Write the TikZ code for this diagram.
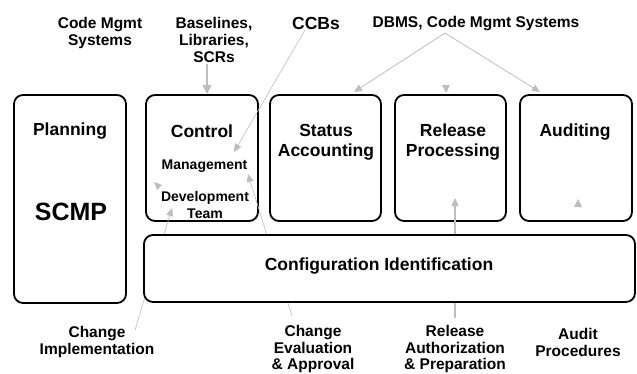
\documentclass[tikz,border=0pt]{standalone}
\usepackage{fontspec}
\setmainfont{Liberation Sans}
\usetikzlibrary{arrows.meta,calc}
\definecolor{lgray}{HTML}{BDBDBD}
\begin{document}
\begin{tikzpicture}[x=1pt,y=-1pt,
  box/.style={draw, line width=1.8pt, fill=white, rounded corners=9pt, inner sep=0pt},
  lab/.style={font=\fontsize{15.5}{17}\selectfont\bfseries, align=center, inner sep=0pt},
  labtight/.style={font=\fontsize{15.5}{16.5}\selectfont\bfseries, align=center, inner sep=0pt},
  ttl/.style={font=\fontsize{17.5}{20}\selectfont\bfseries, align=center, inner sep=0pt},
  sml/.style={font=\fontsize{14}{17}\selectfont\bfseries, align=center, inner sep=0pt},
  big/.style={font=\fontsize{25}{28}\selectfont\bfseries, inner sep=0pt},
  conn/.style={draw=lgray, line width=0.8pt, -{Triangle[length=8pt,width=7pt]}},
  thick conn/.style={draw=lgray, line width=1.8pt, -{Triangle[length=9pt,width=9pt]}},
  tiphead/.style={fill=lgray, draw=none},
]
\useasboundingbox (0,0) rectangle (637,373);
% boxes (except configuration identification)
\node[box, minimum width=112pt, minimum height=208pt] (plan) at (70,199) {};
\node[box, minimum width=112pt, minimum height=126pt] (ctrl) at (202,158) {};
\node[box, minimum width=111pt, minimum height=126pt] (stat) at (325.5,158) {};
\node[box, minimum width=111pt, minimum height=126pt] (rel) at (450.5,158) {};
\node[box, minimum width=112pt, minimum height=126pt] (aud) at (576,158) {};
% box texts
\node[ttl] (tplan) at (70,131.5) {Planning};
\node[big] (tscmp) at (71,212) {SCMP};
\node[ttl] (tctrl) at (202,131.5) {Control};
\node[sml] (tmgmt) at (204.5,166) {Management};
\node[sml] (tdev) at (205,204.5) {Development\\Team};
\node[ttl] (tstat) at (326,142) {Status\\Accounting};
\node[ttl] (trel) at (453,142) {Release\\Processing};
\node[ttl] (taud) at (575,132) {Auditing};
% outside labels
\node[lab] (lcode) at (100,32.5) {Code Mgmt\\Systems};
\node[lab] (lbase) at (214,40) {Baselines,\\Libraries,\\SCRs};
\node[font=\fontsize{17.5}{20}\selectfont\bfseries, inner sep=0pt] (lccb) at (316,23) {CCBs};
\node[lab] (ldbms) at (476,23.5) {DBMS, Code Mgmt Systems};
\node[lab] (limpl) at (97,342) {Change\\Implementation};
\node[labtight] (leval) at (313,349) {Change\\Evaluation\\\& Approval};
\node[labtight] (lrel) at (455,349) {Release\\Authorization\\\& Preparation};
\node[lab] (laud) at (578,342.5) {Audit\\Procedures};
% connector end points
\coordinate (bS) at (207,64);   \coordinate (bE) at (207,94);
\coordinate (cS) at (305,30);   \coordinate (cE) at (234,152);
\coordinate (dS) at (445,33);   \coordinate (dL) at (354,92);  \coordinate (dR) at (540,92);
\coordinate (rS) at (455,318);  \coordinate (rE) at (455,198);
\coordinate (eS) at (292,316);  \coordinate (eE) at (248,174);
\coordinate (iS) at (135,330);  \coordinate (iE) at (172,208);
% connectors
\draw[thick conn] (bS) -- (bE);
\draw[conn, line width=0.6pt] (cS) -- (cE);
\draw[conn] (dS) -- (dL);
\draw[conn] (dS) -- (dR);
\draw[conn, line width=1.4pt] (rS) -- (rE);
\draw[conn, line width=0.6pt] (eS) -- (eE);
\draw[conn, line width=0.6pt] (iS) -- (iE);
% lone arrow heads
\fill[tiphead] (446,93) -- (442,85) -- (450,85) -- cycle;
\fill[tiphead] (578,199) -- (574,207) -- (582,207) -- cycle;
\fill[tiphead] (154,182) -- (162,185) -- (157,190) -- cycle;
% configuration identification box on top
\node[box, minimum width=491pt, minimum height=67pt] (conf) at (389.5,268.5) {};
\node[ttl] (tconf) at (379,266) {Configuration Identification};
\end{tikzpicture}
\end{document}
